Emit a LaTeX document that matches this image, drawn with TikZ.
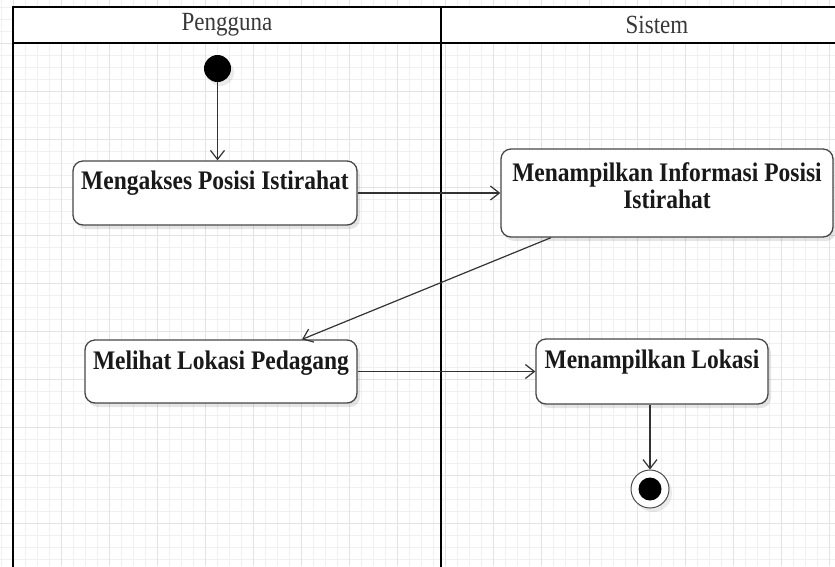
\documentclass[tikz,border=0pt]{standalone}
\usepackage{fontspec}
\usepackage{graphicx}
\setmainfont{Liberation Serif}
\usetikzlibrary{arrows.meta,shadows,calc}
% text drawn slightly taller than its width
\newcommand{\tallline}[1]{\scalebox{1}[1.14]{#1}}
\begin{document}
\begin{tikzpicture}[x=1pt,y=-1pt,
  gridminor/.style={draw=black!6, line width=0.6pt},
  gridmajor/.style={draw=black!11, line width=0.7pt},
  lane/.style={draw=black, line width=2.4pt},
  lanetitle/.style={font=\fontsize{23}{26}\selectfont, text=black!78},
  actionbox/.style={draw=black!72, line width=1.3pt, rounded corners=10pt, fill=white,
    drop shadow={shadow xshift=3pt, shadow yshift=-4pt, opacity=0.10, fill=black},
    inner sep=0pt},
  actiontext/.style={font=\bfseries\fontsize{23.5}{26.5}\selectfont, text=black!90, align=center, inner sep=0pt},
  flow/.style={draw=black!80, line width=1.2pt, -{Straight Barb[length=9pt,width=14pt,line width=1.2pt]}},
  initial/.style={circle, fill=black, minimum size=27pt, inner sep=0pt,
    drop shadow={shadow xshift=3pt, shadow yshift=-4pt, opacity=0.08, fill=black}},
  final/.style={circle, draw=black!70, line width=1pt, fill=white, minimum size=38pt, inner sep=0pt,
    drop shadow={shadow xshift=3pt, shadow yshift=-4pt, opacity=0.08, fill=black}},
  finaldot/.style={circle, fill=black, minimum size=23pt, inner sep=0pt}]

\useasboundingbox (0,0) rectangle (835,566);
\fill[white] (0,0) rectangle (835,566);

% background grid
\foreach \x in {1,13,...,835} \draw[gridminor] (\x,0) -- (\x,566);
\foreach \y in {7,19,...,566} \draw[gridminor] (0,\y) -- (835,\y);
\foreach \x in {13,61,...,835} \draw[gridmajor] (\x,0) -- (\x,566);
\foreach \y in {43,91,...,566} \draw[gridmajor] (0,\y) -- (835,\y);

% swimlane frame
\fill[white] (13,7) rectangle (840,43);
\draw[lane] (13,570) -- (13,7) -- (840,7);
\draw[lane] (13,43) -- (840,43);
\draw[lane] (441,7) -- (441,570);
\node[lanetitle] (lane1) at (227,25) {\tallline{Pengguna}};
\node[lanetitle] (lane2) at (657,25) {\tallline{Sistem}};

% states
\node[initial] (start) at (217.5,68.5) {};

\node[actionbox, minimum width=284pt, minimum height=64pt] (b1) at (215,193) {};
\node[actiontext] (t1) at (215,183) {\tallline{Mengakses Posisi Istirahat}};

\node[actionbox, minimum width=332pt, minimum height=88pt] (b2) at (667,193) {};
\node[actiontext] (t2) at (667,185.5) {\tallline{Menampilkan Informasi Posisi}\\\tallline{Istirahat}};

\node[actionbox, minimum width=272pt, minimum height=63pt] (b3) at (221,371.5) {};
\node[actiontext] (t3) at (221,363) {\tallline{Melihat Lokasi Pedagang}};

\node[actionbox, minimum width=232pt, minimum height=65pt] (b4) at (652,371.5) {};
\node[actiontext] (t4) at (652,362) {\tallline{Menampilkan Lokasi}};

\node[final] (endc) at (650,489) {};
\node[finaldot] (enddot) at (endc) {};

% control flow
\draw[flow] (start) -- (start |- b1.north);
\draw[flow] (b1.east) -- (b2.west);
\draw[flow] ($(b2.south)+(-116,0)$) -- ($(b3.north)+(81,0)$);
\draw[flow] (b3.east) -- (b4.west);
\draw[flow] (b4.south -| endc) -- (endc.north);
\end{tikzpicture}
\end{document}
